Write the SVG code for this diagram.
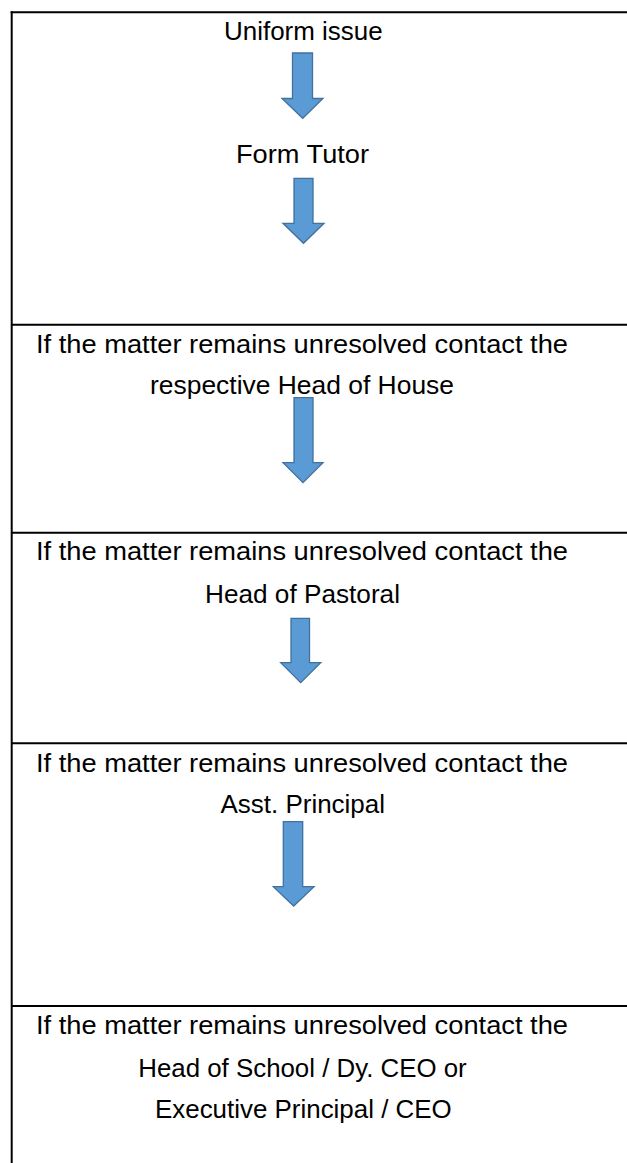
<svg xmlns="http://www.w3.org/2000/svg" width="627" height="1163" viewBox="0 0 627 1163">
  <style>
    .t { font-family: "Liberation Sans", Arial, sans-serif; font-size: 25.5px; fill: #000; }
    .grid { stroke: #000; stroke-width: 2; fill: none; }
    .arrow { fill: #5B9BD5; stroke: #41719C; stroke-width: 1.3; stroke-linejoin: miter; }
  </style>
  <rect width="627" height="1163" fill="#fff"/>
  <g id="table">
    <line class="grid" x1="10.7" y1="12.3" x2="627" y2="12.3"/>
    <line class="grid" x1="11.7" y1="11.3" x2="11.7" y2="1163"/>
    <line class="grid" x1="11.7" y1="324.8" x2="627" y2="324.8"/>
    <line class="grid" x1="11.7" y1="532.7" x2="627" y2="532.7"/>
    <line class="grid" x1="11.7" y1="743.3" x2="627" y2="743.3"/>
    <line class="grid" x1="11.7" y1="1006" x2="627" y2="1006"/>
  </g>
  <g id="node-uniform-issue">
    <text class="t" x="224" y="40" textLength="158.7" lengthAdjust="spacingAndGlyphs">Uniform issue</text>
  </g>
  <g id="node-form-tutor">
    <text class="t" x="236" y="163" textLength="133" lengthAdjust="spacingAndGlyphs">Form Tutor</text>
  </g>
  <g id="node-head-of-house">
    <text class="t" x="36" y="353" textLength="532" lengthAdjust="spacingAndGlyphs">If the matter remains unresolved contact the</text>
    <text class="t" x="150" y="394" textLength="304" lengthAdjust="spacingAndGlyphs">respective Head of House</text>
  </g>
  <g id="node-head-of-pastoral">
    <text class="t" x="36" y="560" textLength="532" lengthAdjust="spacingAndGlyphs">If the matter remains unresolved contact the</text>
    <text class="t" x="205" y="602.5" textLength="195" lengthAdjust="spacingAndGlyphs">Head of Pastoral</text>
  </g>
  <g id="node-asst-principal">
    <text class="t" x="36" y="772" textLength="532" lengthAdjust="spacingAndGlyphs">If the matter remains unresolved contact the</text>
    <text class="t" x="220.5" y="812.5" textLength="164.5" lengthAdjust="spacingAndGlyphs">Asst. Principal</text>
  </g>
  <g id="node-head-of-school">
    <text class="t" x="36" y="1034" textLength="532" lengthAdjust="spacingAndGlyphs">If the matter remains unresolved contact the</text>
    <text class="t" x="138.3" y="1076.5" textLength="328.4" lengthAdjust="spacingAndGlyphs">Head of School / Dy. CEO or</text>
    <text class="t" x="155" y="1118" textLength="296.7" lengthAdjust="spacingAndGlyphs">Executive Principal / CEO</text>
  </g>
  <g id="connectors">
    <polygon class="arrow" points="292.5,53 312.5,53 312.5,98.5 323,98.5 302.7,118.3 282,98.5 292.5,98.5"/>
    <polygon class="arrow" points="294,178.3 313,178.3 313,223.3 324,223.3 303.5,243.3 283,223.3 294,223.3"/>
    <polygon class="arrow" points="294,397.7 313,397.7 313,462.7 323,462.7 303,482.7 283,462.7 294,462.7"/>
    <polygon class="arrow" points="291,618.3 309.5,618.3 309.5,662.7 320.7,662.7 300.7,682.7 280.7,662.7 291,662.7"/>
    <polygon class="arrow" points="283.3,821.7 302.7,821.7 302.7,886.7 314,886.7 293.7,906 273.3,886.7 283.3,886.7"/>
  </g>
</svg>
